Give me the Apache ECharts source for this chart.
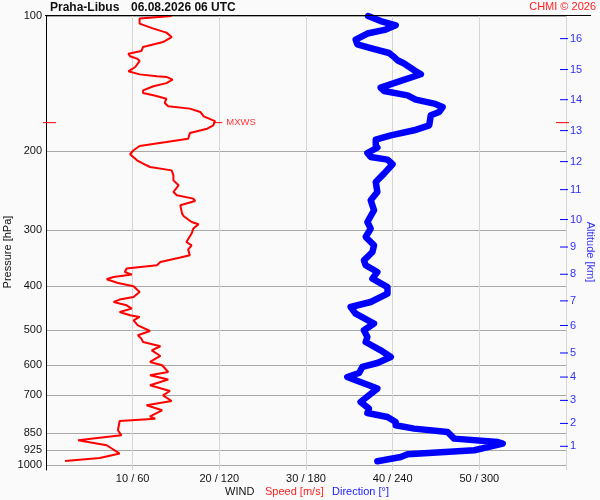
<!DOCTYPE html>
<html>
<head>
<meta charset="utf-8">
<title>Praha-Libus 06.08.2026 06 UTC</title>
<script src="https://cdn.jsdelivr.net/npm/echarts@6/dist/echarts.min.js"></script>
<style>
  html, body { margin: 0; padding: 0; background: #fafafa; }
  #chart { width: 600px; height: 500px; }
</style>
</head>
<body>
<div id="chart"></div>
<script>
'use strict';

// pressure levels drawn on the left axis [hPa]
var pressureTicks = [100, 200, 300, 400, 500, 600, 700, 850, 925, 1000];

// altitude ticks on the right side: label [km] and the pressure it sits at [hPa]
var altLabels = [1, 2, 3, 4, 5, 6, 7, 8, 9, 10, 11, 12, 13, 14, 15, 16];
var altPressure = [908.7, 808, 718, 637, 563, 489, 431, 376, 327, 284, 243.6, 211, 180, 153.6, 131.6, 112.3];

// wind speed profile [m/s] vs pressure [hPa]
var speedP = [100, 101.3, 104, 106.7, 108.9, 111.4, 114.3, 117.2, 119.7, 121.3,
  122.9, 124.4, 126, 129.9, 132.8, 134.9, 136.2, 136.7, 138.6, 141.1,
  143.4, 146.4, 148.4, 150.2, 152.8, 156.2, 158.9, 160.8, 163.6, 167.3,
  171.4, 175.2, 178.2, 182.3, 187.6, 190.8, 194.8, 199.1, 203.2, 209.6,
  215, 216.9, 220.7, 226.4, 232.3, 238.3, 246.6, 250.8, 255.1, 258.2,
  264, 275.5, 279.3, 287.6, 291, 297.5, 305.2, 318.7, 324.1, 331.4,
  341.2, 345.2, 353.1, 359.1, 365.2, 371.7, 376.6, 381.3, 385.8, 393.3,
  399.9, 411.8, 422.5, 428.2, 433.5, 440.9, 448.4, 456.3, 464.1, 468.1,
  476.1, 488.5, 503, 514.2, 523, 532.2, 544, 555.3, 571.7, 589.6,
  599.6, 620.6, 631.2, 645.3, 664.5, 684.2, 699.5, 720.3, 736.2, 755.4,
  779, 788.4, 798, 837, 858.8, 881, 888.7, 903.8, 943.2, 951.5,
  964.7, 979.7];
var speedV = [14.5, 10.8, 10.8, 12.4, 13.9, 14.5, 13.5, 11.2, 11.0, 9.5,
  9.7, 10.5, 10.8, 10.3, 9.5, 10.8, 12.8, 13.9, 14.6, 13.9,
  12.4, 11.2, 11.2, 12.4, 13.9, 13.7, 14.1, 16.6, 17.8, 18.2,
  19.5, 19.3, 18.6, 16.6, 16.4, 13.9, 10.8, 10.1, 9.7, 10.5,
  11.6, 12.0, 14.5, 14.7, 14.7, 15.3, 14.7, 15.1, 17.0, 17.2,
  15.5, 15.7, 15.9, 16.8, 17.6, 17.0, 16.8, 16.2, 16.8, 16.4,
  16.6, 15.5, 13.2, 12.8, 9.3, 9.1, 9.9, 7.8, 7.0, 8.3,
  10.1, 10.8, 10.1, 8.5, 7.8, 9.3, 9.9, 8.5, 9.7, 10.8,
  10.1, 10.6, 12.0, 10.6, 11.0, 11.2, 13.2, 12.2, 13.2, 12.0,
  13.4, 14.1, 12.0, 14.1, 12.0, 14.3, 13.5, 14.5, 11.6, 13.4,
  12.0, 12.6, 8.5, 8.3, 8.7, 3.7, 3.5, 7.0, 8.5, 8.7,
  6.2, 2.2];

// wind direction profile [deg] vs pressure [hPa]
var dirP = [100, 100.5, 102.6, 104.9, 107.2, 109.4, 112.9, 115.6, 118.2, 120.9,
  123.4, 125.5, 127.6, 132.1, 134.8, 139.5, 144.4, 146.9, 150.2, 153.6,
  156.7, 159.5, 163.6, 166.4, 175.2, 179.7, 184.4, 188.5, 194.1, 196.4,
  201.9, 206.1, 208.9, 213.9, 224.4, 234.3, 246.6, 257.3, 270.8, 287.6,
  297.5, 310.6, 324.1, 335.5, 350.1, 359.1, 371.7, 384.6, 401.5, 415.3,
  433.5, 444.8, 460.2, 484.2, 501.2, 518.7, 532.2, 555.3, 574.8, 592.7,
  604.9, 624, 636.8, 647.7, 664.5, 675.9, 699.5, 724, 748.8, 765.9,
  781.8, 802.1, 815.9, 829.8, 844.4, 873.5, 888.7, 896, 927.2, 946.6,
  959.8, 981.3];
var dirD = [223, 222.5, 231.7, 242.1, 235.2, 222.5, 214.4, 215.5, 226, 237.5,
  241, 243.3, 247.9, 254.9, 259.5, 245.6, 231.7, 234, 250.3, 256,
  268.7, 274.6, 272.2, 266.4, 265.3, 254.9, 238.7, 228.3, 228.3, 229.4,
  222.5, 224.8, 236.4, 239.9, 234, 228.3, 229.4, 224.8, 227.1, 222.5,
  224.8, 221.3, 227.1, 226, 220.1, 221.3, 229.4, 226, 236.4, 236.4,
  224.8, 210.9, 214.4, 227.1, 220.1, 222.5, 221.3, 231.7, 238.7, 229.4,
  219, 216.7, 208.6, 214.4, 223.6, 229.4, 223.6, 217.8, 223.6, 222.5,
  236.4, 242.1, 242.1, 254.9, 278, 282.6, 312.8, 316.2, 296.5, 250.3,
  245.6, 229.4];

// maximum wind marker
var mxwsV = 19.3;
var mxwsP = 172.8;

(function () {
   var FONT = '"Liberation Sans", Arial, sans-serif';
   var chart = echarts.init(document.getElementById('chart'));

   function pairs (xs, ys) {
      var out = [];
      for (var i = 0; i < xs.length; i++) {
         out.push([xs[i], ys[i]]);
      }
      return out;
   }

   // right hand altitude scale, one tick + label per item
   function renderAltTick (params, api) {
      var c = api.coord([60, api.value(1)]);
      return {
         type: 'group',
         children: [
            { type: 'line', shape: { x1: c[0] - 6, y1: c[1], x2: c[0] + 2, y2: c[1] }, style: { stroke: '#0000ff', lineWidth: 1 } },
            { type: 'text', x: c[0] + 4, y: c[1], style: { text: String(altLabels[params.dataIndex]), fill: '#3030ff', font: '11px ' + FONT, verticalAlign: 'middle' } }
         ]
      };
   }

   function renderMxws (params, api) {
      var p = api.value(1);
      var pt = api.coord([api.value(0), p]);
      var l = api.coord([0, p]);
      var r = api.coord([60, p]);
      var red = '#ff0000';
      return {
         type: 'group',
         children: [
            { type: 'line', shape: { x1: pt[0], y1: pt[1], x2: pt[0] + 9, y2: pt[1] }, style: { stroke: red, lineWidth: 1 } },
            { type: 'text', x: pt[0] + 13, y: pt[1], style: { text: 'MXWS', fill: '#ff3838', font: '9.5px ' + FONT, verticalAlign: 'middle' } },
            { type: 'line', shape: { x1: l[0] - 3, y1: l[1], x2: l[0] + 10, y2: l[1] }, style: { stroke: red, lineWidth: 1 } },
            { type: 'line', shape: { x1: r[0] - 10, y1: r[1], x2: r[0] + 3, y2: r[1] }, style: { stroke: red, lineWidth: 1 } }
         ]
      };
   }

   var altData = [];
   for (var i = 0; i < altPressure.length; i++) {
      altData.push([60, altPressure[i]]);
   }

   var option = {
      backgroundColor: '#fafafa',
      animation: false,
      textStyle: { fontFamily: FONT },
      grid: { left: 46, right: 34, top: 16, bottom: 30 },
      xAxis: [
         {
            type: 'value', min: 0, max: 60, interval: 10,
            axisLine: { show: false },
            axisTick: { show: false },
            splitLine: { show: true, lineStyle: { color: '#d6d6d6', width: 1 } },
            axisLabel: {
               margin: 3, fontSize: 11, color: '#111',
               formatter: function (v) {
                  if (v === 0 || v === 60) { return ''; }
                  return v + ' / ' + v * 6;
               }
            }
         },
         { type: 'value', min: 0, max: 360, show: false }
      ],
      yAxis: [
         {
            type: 'log', logBase: 10, min: 100, max: 1026, inverse: true,
            axisLine: { show: true, lineStyle: { color: '#000', width: 1 } },
            axisTick: { show: false, customValues: pressureTicks },
            minorTick: { show: false },
            axisLabel: {
               customValues: pressureTicks, margin: 4, fontSize: 11, color: '#111',
               formatter: function (v) { return String(Math.round(v)); }
            },
            splitLine: { show: true, lineStyle: { color: '#a8a8a8', width: 1 } },
            minorSplitLine: { show: false }
         }
      ],
      graphic: [
         { type: 'line', z: 10, shape: { x1: 45, y1: 15.5, x2: 591, y2: 15.5 }, style: { stroke: '#000', lineWidth: 1 } },
         { type: 'text', x: 50, y: 7.5, style: { text: 'Praha-Libus', font: 'bold 12px ' + FONT, fill: '#111', verticalAlign: 'middle' } },
         { type: 'text', x: 131, y: 7.5, style: { text: '06.08.2026 06 UTC', font: 'bold 12px ' + FONT, fill: '#111', verticalAlign: 'middle' } },
         { type: 'text', x: 596, y: 7, style: { text: 'CHMI \u00a9 2026', font: '11px ' + FONT, fill: '#ff2020', align: 'right', verticalAlign: 'middle' } },
         { type: 'text', x: 225, y: 492, style: { text: 'WIND', font: '11px ' + FONT, fill: '#111', verticalAlign: 'middle' } },
         { type: 'text', x: 265, y: 492, style: { text: 'Speed [m/s]', font: '11px ' + FONT, fill: '#ff2020', verticalAlign: 'middle' } },
         { type: 'text', x: 332, y: 492, style: { text: 'Direction [\u00b0]', font: '11px ' + FONT, fill: '#2020ff', verticalAlign: 'middle' } },
         { type: 'text', x: 8, y: 252, rotation: Math.PI / 2, style: { text: 'Pressure [hPa]', font: '11px ' + FONT, fill: '#111', align: 'center', verticalAlign: 'middle' } },
         { type: 'text', x: 590, y: 252, rotation: -Math.PI / 2, style: { text: 'Altitude [km]', font: '11px ' + FONT, fill: '#3030ff', align: 'center', verticalAlign: 'middle' } }
      ],
      series: [
         {
            name: 'Direction', type: 'line', xAxisIndex: 1, yAxisIndex: 0,
            data: pairs(dirD, dirP),
            showSymbol: false, clip: false,
            lineStyle: { color: '#0000ff', width: 6.5, cap: 'round', join: 'round' },
            z: 3
         },
         {
            name: 'Speed', type: 'line', xAxisIndex: 0, yAxisIndex: 0,
            data: pairs(speedV, speedP),
            showSymbol: false, clip: false,
            lineStyle: { color: '#ff0000', width: 2 },
            z: 4
         },
         {
            name: 'Altitude', type: 'custom', xAxisIndex: 0, yAxisIndex: 0,
            data: altData,
            renderItem: renderAltTick,
            clip: false,
            z: 5
         },
         {
            name: 'MXWS', type: 'custom', xAxisIndex: 0, yAxisIndex: 0,
            data: [[mxwsV, mxwsP]],
            renderItem: renderMxws,
            clip: false,
            z: 5
         }
      ]
   };

   chart.setOption(option);
})();
</script>
</body>
</html>
